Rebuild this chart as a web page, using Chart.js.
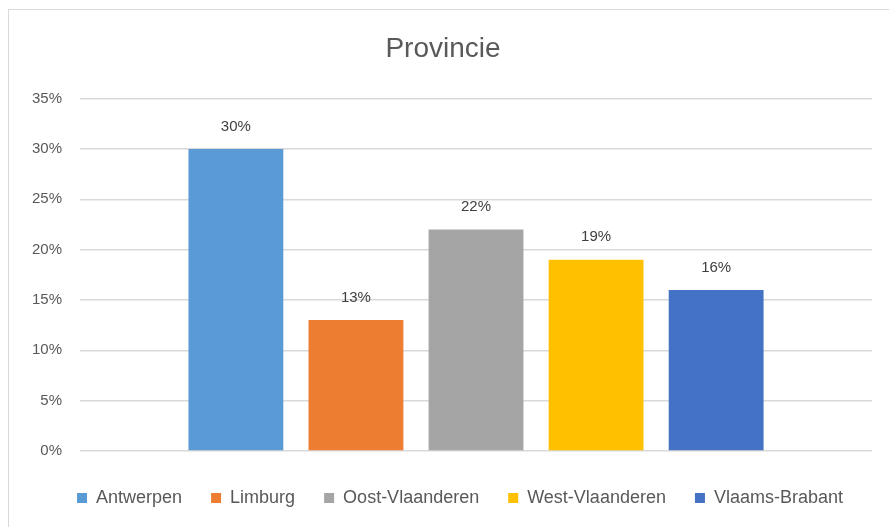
<!DOCTYPE html>
<html>
<head>
<meta charset="utf-8">
<script src="https://cdn.jsdelivr.net/npm/chart.js@4"></script>
<style>
  body { margin: 0; background: #fff; }
  #frame { position: absolute; left: 8px; top: 9px; width: 900px; height: 540px; border: 1px solid #d9d9d9; }
  #wrap { position: absolute; left: 0; top: 0; width: 889px; height: 527px; }
</style>
</head>
<body>
<div id="frame"></div>
<div id="wrap"><canvas id="provChart"></canvas></div>
<script>
// Gegevens
const provincies = ['Antwerpen', 'Limburg', 'Oost-Vlaanderen', 'West-Vlaanderen', 'Vlaams-Brabant'];
const percentages = [30, 13, 22, 19, 16];
const kleuren = ['#5b9bd5', '#ed7d31', '#a5a5a5', '#ffc000', '#4472c4'];
const yTicks = [0, 5, 10, 15, 20, 25, 30, 35];

const fontFamily = "'Liberation Sans', sans-serif";
const tekstKleur = '#595959';

// Labels boven de staven
const waardeLabels = {
    id: 'waardeLabels',
    afterDatasetsDraw(chart) {
        const ctx = chart.ctx;
        ctx.save();
        ctx.font = '15px ' + fontFamily;
        ctx.fillStyle = '#404040';
        ctx.textAlign = 'center';
        ctx.textBaseline = 'bottom';
        chart.data.datasets.forEach((ds, i) => {
            const meta = chart.getDatasetMeta(i);
            meta.data.forEach((bar, j) => {
                ctx.fillText(ds.data[j] + '%', bar.x, bar.y - 15);
            });
        });
        ctx.restore();
    }
};

const createProvChart = () => {
    const ctx = document.getElementById('provChart').getContext('2d');
    new Chart(ctx, {
        type: 'bar',
        data: {
            labels: [''],
            datasets: provincies.map((p, i) => ({
                label: p,
                data: [percentages[i]],
                backgroundColor: kleuren[i],
                barPercentage: 0.79,
                categoryPercentage: 0.758
            }))
        },
        options: {
            responsive: true,
            maintainAspectRatio: false,
            animation: false,
            layout: { padding: { left: 14, right: 17, top: 20, bottom: 10 } },
            plugins: {
                title: {
                    display: true,
                    text: 'Provincie',
                    color: tekstKleur,
                    font: { family: fontFamily, size: 28, weight: 'normal' },
                    padding: { top: 12, bottom: 33 }
                },
                legend: {
                    position: 'bottom',
                    align: 'end',
                    labels: {
                        color: tekstKleur,
                        font: { family: fontFamily, size: 18 },
                        boxWidth: 10,
                        boxHeight: 10,
                        padding: 29
                    }
                },
                tooltip: { enabled: false }
            },
            scales: {
                x: {
                    grid: { display: false },
                    border: { display: false },
                    ticks: { display: false },
                    afterFit: (axis) => { axis.height = 9; }
                },
                y: {
                    min: 0,
                    max: 35,
                    afterBuildTicks: (axis) => { axis.ticks = yTicks.map(v => ({ value: v })); },
                    grid: { color: '#d9d9d9', lineWidth: 1.5, drawTicks: false },
                    border: { display: false },
                    ticks: {
                        color: tekstKleur,
                        font: { family: fontFamily, size: 15 },
                        padding: 18,
                        callback: v => v + '%'
                    }
                }
            }
        },
        plugins: [waardeLabels]
    });
};

document.addEventListener('DOMContentLoaded', createProvChart);
</script>
</body>
</html>
